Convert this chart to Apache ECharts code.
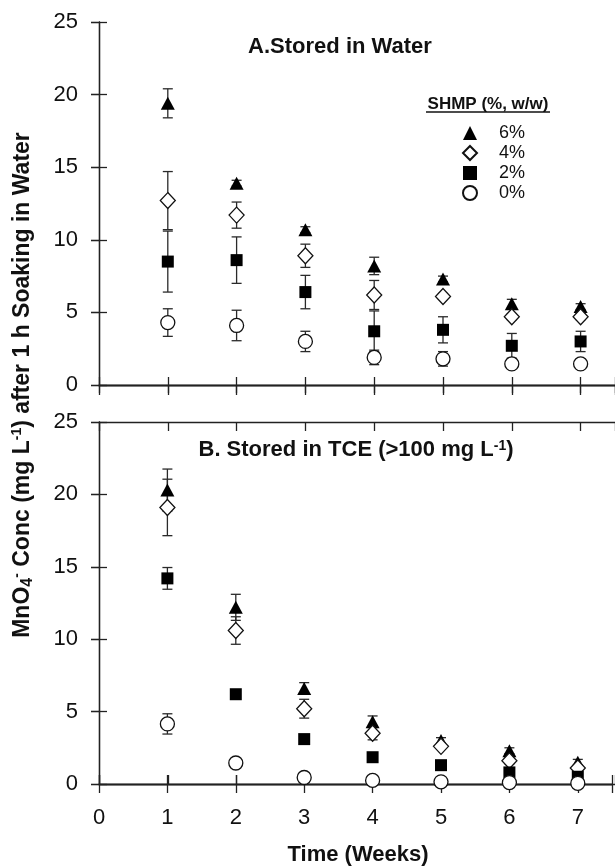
<!DOCTYPE html>
<html>
<head>
  <meta charset="utf-8">
</head>
<body style="margin: 0; background: #fff">
  <div id="container" style="width: 615px; height: 866px"></div>
  <script src="https://cdn.jsdelivr.net/npm/echarts@6/dist/echarts.min.js"></script>
  <script>
    // data (mean and +/- error, weeks 1..7)
    var weeks = [1, 2, 3, 4, 5, 6, 7];
    var levels = ['6%', '4%', '2%', '0%'];
    var waterMean = [
      [19.4, 13.9, 10.7, 8.2, 7.3, 5.6, 5.4],
      [12.7, 11.7, 8.9, 6.2, 6.1, 4.7, 4.7],
      [8.5, 8.6, 6.4, 3.7, 3.8, 2.7, 3.0],
      [4.3, 4.1, 3.0, 1.9, 1.8, 1.45, 1.45]
    ];
    var waterErr = [
      [1.0, 0.2, 0.2, 0.6, 0.2, 0.3, 0.2],
      [2.0, 0.9, 0.8, 1.0, 0.2, 0.2, 0.2],
      [2.1, 1.6, 1.15, 1.4, 0.9, 0.85, 0.7],
      [0.95, 1.05, 0.7, 0.5, 0.5, 0.3, 0.2]
    ];
    var tceMean = [
      [20.3, 12.2, 6.6, 4.3, 3.0, 2.3, 1.5],
      [19.1, 10.6, 5.2, 3.5, 2.6, 1.6, 1.1],
      [14.2, 6.2, 3.1, 1.85, 1.3, 0.8, 0.5],
      [4.15, 1.45, 0.45, 0.25, 0.15, 0.1, 0.05]
    ];
    var tceErr = [
      [1.45, 0.9, 0.4, 0.4, 0.2, 0.2, 0.2],
      [1.95, 0.95, 0.65, 0.45, 0.2, 0.2, 0.2],
      [0.75, 0.2, 0.2, 0.2, 0.2, 0.2, 0.2],
      [0.7, 0.2, 0.1, 0.1, 0.1, 0.1, 0.1]
    ];

    var font = 'Liberation Sans, Arial, sans-serif';
    var symbols = ['triangle', 'diamond', 'rect', 'circle'];
    var symbolSizes = [[14, 13], [15, 16], [12, 12], [14, 14]];
    var filled = [true, false, true, false];

    var dom = document.getElementById('container');
    var myChart = echarts.init(dom, null, { renderer: 'canvas' });

    function errRender(params, api) {
      var x = api.value(0);
      var top = api.coord([x, api.value(2)]);
      var bot = api.coord([x, api.value(1)]);
      var w = 5;
      var st = { stroke: '#2a2a2a', lineWidth: 1.3 };
      return {
        type: 'group',
        children: [
          { type: 'line', shape: { x1: top[0], y1: top[1], x2: bot[0], y2: bot[1] }, style: st },
          { type: 'line', shape: { x1: top[0] - w, y1: top[1], x2: top[0] + w, y2: top[1] }, style: st },
          { type: 'line', shape: { x1: bot[0] - w, y1: bot[1], x2: bot[0] + w, y2: bot[1] }, style: st }
        ]
      };
    }

    function xAx(grid, pos, inside, len, labels) {
      return {
        type: 'value', gridIndex: grid, position: pos, min: 0, max: 7.5, interval: 1,
        axisLine: { lineStyle: { color: '#222', width: 1.3 } },
        axisTick: { inside: inside, length: len, lineStyle: { color: '#222', width: 1.3 } },
        axisLabel: labels ? {
          fontSize: 22, color: '#111', fontFamily: font, margin: 23,
          formatter: function (v) { return v % 1 === 0 ? v : ''; }
        } : { show: false },
        splitLine: { show: false }
      };
    }

    function yAx(grid, pos, inside, len, labels, lineColor) {
      return {
        type: 'value', gridIndex: grid, position: pos, min: 0, max: 25, interval: 5,
        axisLine: { show: true, lineStyle: { color: lineColor || '#222', width: 1.3 } },
        axisTick: { show: true, inside: inside, length: len, lineStyle: { color: '#222', width: 1.3 } },
        axisLabel: labels ? { fontSize: 22, color: '#111', fontFamily: font, margin: 21 } : { show: false },
        splitLine: { show: false }
      };
    }

    var series = [];
    function addPanel(means, errs, axisIdx) {
      levels.forEach(function (name, i) {
        var bars = weeks.map(function (w, j) {
          return [w, means[i][j] - errs[i][j], means[i][j] + errs[i][j]];
        });
        series.push({
          type: 'custom', name: name + ' err', xAxisIndex: axisIdx, yAxisIndex: axisIdx,
          renderItem: errRender, data: bars, z: 1, silent: true
        });
      });
      levels.forEach(function (name, i) {
        series.push({
          type: 'scatter', name: name, xAxisIndex: axisIdx, yAxisIndex: axisIdx,
          symbol: symbols[i], symbolSize: symbolSizes[i], z: 3 + i,
          itemStyle: filled[i]
            ? { color: '#000', opacity: 1 }
            : { color: '#fff', borderColor: '#111', borderWidth: 1.3, opacity: 1 },
          data: weeks.map(function (w, j) { return [w, means[i][j]]; })
        });
      });
    }
    addPanel(waterMean, waterErr, 0);
    addPanel(tceMean, tceErr, 3);

    var option = {
      backgroundColor: '#fff',
      animation: false,
      grid: [
        { left: 99, top: 22, width: 516.5, height: 363 },
        { left: 99, top: 22, width: 516.5, height: 363 },
        { left: 99, top: 422, width: 516.5, height: 362 },
        { left: 99, top: 422, width: 516.5, height: 362 }
      ],
      xAxis: [
        xAx(0, 'bottom', false, 8, false),
        xAx(0, 'top', true, 10, false),
        xAx(1, 'bottom', true, 8, false),
        xAx(2, 'bottom', false, 9, true),
        xAx(2, 'top', false, 9, false),
        xAx(3, 'bottom', true, 9, false),
        xAx(3, 'top', true, 9, false)
      ],
      yAxis: [
        yAx(0, 'left', false, 8, true),
        yAx(0, 'right', true, 8, false, '#ccc'),
        yAx(1, 'left', true, 8, false),
        yAx(2, 'left', false, 8, true),
        yAx(2, 'right', true, 8, false, '#ccc'),
        yAx(3, 'left', true, 8, false)
      ],
      legend: {
        data: levels, orient: 'vertical', left: 457, top: 119,
        itemWidth: 14, itemHeight: 14, itemGap: 2, selectedMode: false,
        textStyle: { fontSize: 18, color: '#111', fontFamily: font, padding: [0, 0, 0, 17] }
      },
      graphic: [
        {
          type: 'text', x: 340, y: 47,
          style: { text: 'A.Stored in Water', font: 'bold 22px ' + font, fill: '#111', align: 'center', verticalAlign: 'middle' }
        },
        {
          type: 'text', x: 356, y: 450,
          style: {
            text: '{b|B. Stored in TCE (>100 mg L}{sup|-1}{b|)}', align: 'center', verticalAlign: 'middle',
            rich: {
              b: { fontSize: 22, fontWeight: 'bold', fontFamily: font, fill: '#111' },
              sup: { fontSize: 14, fontWeight: 'bold', fontFamily: font, fill: '#111', verticalAlign: 'top', padding: [0, 0, 8, 0] }
            }
          }
        },
        {
          type: 'text', x: 488, y: 104,
          style: { text: 'SHMP (%, w/w)', font: 'bold 17px ' + font, fill: '#111', align: 'center', verticalAlign: 'middle' }
        },
        {
          type: 'line', shape: { x1: 426, y1: 112, x2: 550, y2: 112 }, style: { stroke: '#111', lineWidth: 1.3 }
        },
        {
          type: 'text', x: 358, y: 855,
          style: { text: 'Time (Weeks)', font: 'bold 22px ' + font, fill: '#111', align: 'center', verticalAlign: 'middle' }
        },
        {
          type: 'text', x: 23, y: 385, rotation: Math.PI / 2,
          style: {
            text: '{b|MnO}{sub|4}{sup|-}{b| Conc (mg L}{sup|-1}{b|) after 1 h Soaking in Water}',
            align: 'center', verticalAlign: 'middle',
            rich: {
              b: { fontSize: 23, fontWeight: 'bold', fontFamily: font, fill: '#111' },
              sub: { fontSize: 16, fontWeight: 'bold', fontFamily: font, fill: '#111', verticalAlign: 'bottom', padding: [9, 0, 0, 0] },
              sup: { fontSize: 14, fontWeight: 'bold', fontFamily: font, fill: '#111', verticalAlign: 'top', padding: [0, 0, 8, 0] }
            }
          }
        }
      ],
      series: series
    };

    myChart.setOption(option);
  </script>
</body>
</html>
